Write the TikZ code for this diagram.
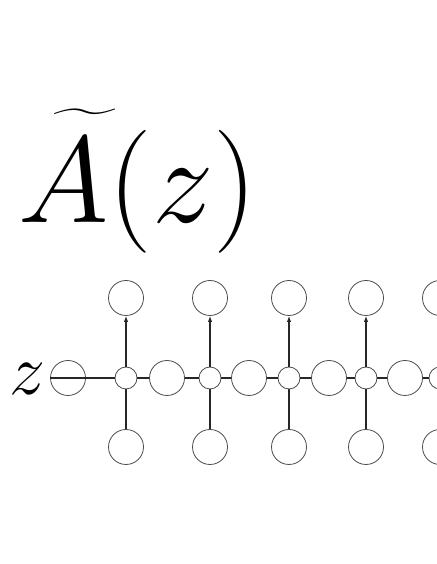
\RequirePackage{fix-cm}
\documentclass[tikz,border=0pt]{standalone}
\usepackage{exscale}
\usepackage{graphicx}
\usepackage{tikz}
\usetikzlibrary{arrows.meta,positioning}

\tikzset{
  bigc/.style={circle, draw=black!70, line width=0.8pt, minimum size=35pt, inner sep=0pt},
  smallc/.style={circle, draw=black!70, line width=0.8pt, minimum size=22pt, inner sep=0pt},
  link/.style={line width=1.2pt, black!85},
  uparr/.style={line width=1.2pt, black!85, -{Latex[length=6pt,width=4.5pt]}}
}

\begin{document}
\begin{tikzpicture}[x=1pt, y=1pt]
	\useasboundingbox (0,0) rectangle (436,564);

	\node[anchor=base west, inner sep=0pt] (title) at (18, 341) {\fontsize{123}{123}\selectfont
		$\rlap{\kern-0.08em\raisebox{-0.42em}{\scalebox{1.7}[1.8]{$\widetilde{\phantom{A}}$}}}A(z)$};
	\node[anchor=base west, inner sep=0pt] (zin) at (9, 169) {\fontsize{72}{72}\selectfont $z$};

	\node[bigc] (in) at (68, 186) {};
	\node[smallc] (s1) at (126, 186) {};
	\node[bigc] (b1) at (167, 186) {};
	\node[smallc] (s2) at (210, 186) {};
	\node[bigc] (b2) at (249, 186) {};
	\node[smallc] (s3) at (289, 186) {};
	\node[bigc] (b3) at (329, 186) {};
	\node[smallc] (s4) at (366, 186) {};
	\node[bigc] (b4) at (405, 186) {};
	\node[smallc] (s5) at (440, 186) {};

	\node[bigc] (top1) at (126, 266) {};
	\node[bigc] (top2) at (210, 266) {};
	\node[bigc] (top3) at (289, 266) {};
	\node[bigc] (top4) at (366, 266) {};
	\node[bigc] (top5) at (440, 266) {};

	\node[bigc] (bot1) at (126, 117) {};
	\node[bigc] (bot2) at (210, 117) {};
	\node[bigc] (bot3) at (289, 117) {};
	\node[bigc] (bot4) at (366, 117) {};
	\node[bigc] (bot5) at (440, 117) {};

	% chain
	\draw [link] (in.west) to (s1.west);
	\draw [link] (s1) to (b1);
	\draw [link] (b1) to (s2);
	\draw [link] (s2) to (b2);
	\draw [link] (b2) to (s3);
	\draw [link] (s3) to (b3);
	\draw [link] (b3) to (s4);
	\draw [link] (s4) to (b4);
	\draw [link] (b4) to (s5);
	\draw [link] (s5.east) to ++(10,0);

	% outputs
	\draw [uparr] (s1) to (top1);
	\draw [uparr] (s2) to (top2);
	\draw [uparr] (s3) to (top3);
	\draw [uparr] (s4) to (top4);
	\draw [uparr] (s5) to (top5);

	% inputs
	\draw [link] (bot1) to (s1);
	\draw [link] (bot2) to (s2);
	\draw [link] (bot3) to (s3);
	\draw [link] (bot4) to (s4);
	\draw [link] (bot5) to (s5);
\end{tikzpicture}
\end{document}
